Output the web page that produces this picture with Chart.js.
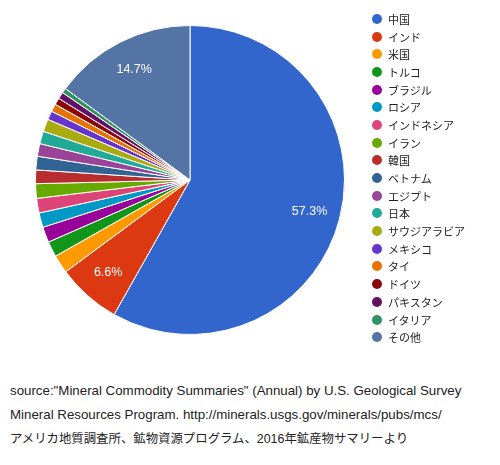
<!DOCTYPE html>
<html><head><meta charset="utf-8">
<script src="https://cdn.jsdelivr.net/npm/chart.js@4"></script>
<style>
body{margin:0;background:#fff;font-family:"Noto Sans CJK JP",Arial,sans-serif;}
#wrap{position:absolute;left:0;top:0;width:380px;height:340px;}
#legend{position:absolute;left:372px;top:10px;font-size:11px;color:#222;}
.li{height:17.7px;display:flex;align-items:center;}
.dot{width:10px;height:10px;border-radius:50%;margin-right:6px;}
#src{position:absolute;left:10px;top:379px;font-size:13.3px;color:#222;line-height:24px;font-family:Arial,"Noto Sans CJK JP",sans-serif;}
#src .jp{font-size:12.4px;}
</style></head><body>
<div id="wrap"><canvas id="c"></canvas></div>
<div id="legend"></div>
<div id="src">source:"Mineral Commodity Summaries" (Annual) by U.S. Geological Survey<br>Mineral Resources Program. http://minerals.usgs.gov/minerals/pubs/mcs/<br><span class="jp">アメリカ地質調査所、鉱物資源プログラム、2016年鉱産物サマリーより</span></div>
<script>
const categories=["中国","インド","米国","トルコ","ブラジル","ロシア","インドネシア","イラン","韓国","ベトナム","エジプト","日本","サウジアラビア","メキシコ","タイ","ドイツ","パキスタン","イタリア","その他"];
const values=[57.3,6.6,1.9,1.6,1.6,1.5,1.5,1.5,1.4,1.4,1.3,1.3,1.3,0.9,0.8,0.7,0.7,0.5,14.7];
const colors=["#3366cc","#dc3912","#ff9900","#109618","#990099","#0099c6","#dd4477","#66aa00","#b82e2e","#316395","#994499","#22aa99","#aaaa11","#6633cc","#e67300","#8b0707","#651067","#329262","#5574a6"];
const lg=document.getElementById('legend');
categories.forEach((c,i)=>{lg.innerHTML+=`<div class="li"><span class="dot" style="background:${colors[i]}"></span>${c}</div>`;});
const total=values.reduce((a,b)=>a+b,0);
const labelPlugin={id:'lbl',afterDatasetsDraw(ch){const ctx=ch.ctx;const meta=ch.getDatasetMeta(0);
ctx.save();ctx.fillStyle='#fff';ctx.font='12.5px Arial';ctx.textAlign='center';ctx.textBaseline='middle';
meta.data.forEach((a,i)=>{const p=values[i]/total*100;if(p<5)return;const m=(a.startAngle+a.endAngle)/2;const r=a.outerRadius*0.8;ctx.fillText(values[i].toFixed(1)+'%',a.x+Math.cos(m)*r,a.y+Math.sin(m)*r);});ctx.restore();}};
new Chart(document.getElementById('c'),{type:'pie',data:{labels:categories,datasets:[{data:values,backgroundColor:colors,borderColor:'#fff',borderWidth:1}]},
options:{responsive:true,maintainAspectRatio:false,animation:false,layout:{padding:{top:25,bottom:5}},plugins:{legend:{display:false},tooltip:{enabled:false}}},plugins:[labelPlugin]});
</script></body></html>
